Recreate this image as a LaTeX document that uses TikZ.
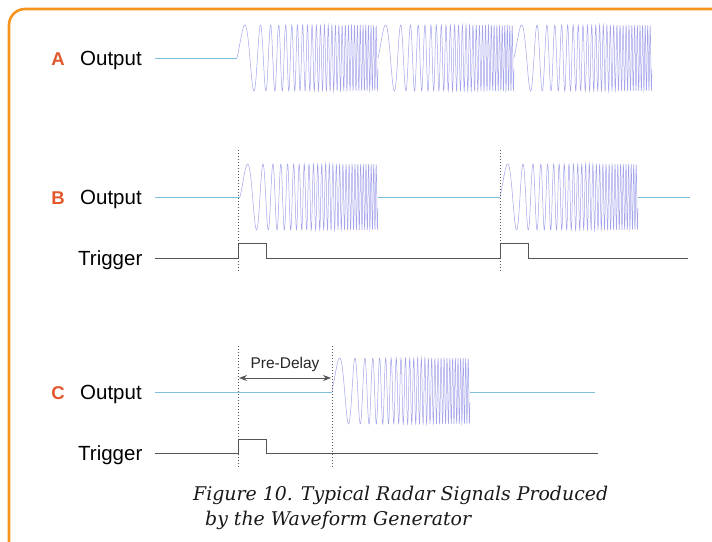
\documentclass[tikz,border=0pt]{standalone}
\usepackage{fontspec}
\setmainfont{Liberation Sans}
\newfontfamily\capfont{DejaVu Serif}
\usetikzlibrary{arrows.meta}
\definecolor{frameorange}{HTML}{F7941D}
\definecolor{tagred}{HTML}{E2582A}
\definecolor{sigblue}{HTML}{7DBFDD}
\definecolor{chirpblue}{HTML}{A4A4EC}
\definecolor{triggray}{HTML}{555555}

\begin{document}
\begin{tikzpicture}[x=1pt,y=-1pt,
    lbl/.style={font=\fontsize{20.5}{24}\selectfont,anchor=base west,inner sep=0pt},
    tag/.style={font=\fontsize{18.5}{22}\selectfont\bfseries,text=tagred,anchor=base,inner sep=0pt},
    caption/.style={font=\fontsize{18.9}{23}\selectfont\capfont\itshape,text=black!90,anchor=base west,inner sep=0pt},
    outline/.style={sigblue,line width=0.8pt},
    trig/.style={triggray,line width=0.9pt},
    chirp/.style={chirpblue,line width=0.5pt},
    markline/.style={triggray,line width=1pt,dash pattern=on 1.3pt off 1.7pt}]
  \useasboundingbox (0,0) rectangle (712,541);
  \fill[white] (0,0) rectangle (712,541);
  \begin{scope}
    \clip (0,0) rectangle (712,541);
    \draw[frameorange,line width=2.6pt,rounded corners=16pt] (9,600) -- (9,9) -- (760,9);
  \end{scope}

  % labels
  \node[tag] (ta) at (58,65) {A};
  \node[lbl] (oa) at (80,65) {Output};
  \node[tag] (tb) at (58,204) {B};
  \node[lbl] (ob) at (80,204) {Output};
  \node[lbl] (gb) at (78,265) {Trigger};
  \node[tag] (tc) at (58,399) {C};
  \node[lbl] (oc) at (80,399) {Output};
  \node[lbl] (gc) at (78,460) {Trigger};

  % chirps
  \foreach \xs/\len/\yc in {237/141/58, 378/136/58, 514/138/58,
                            240/138/197, 500/138/197, 332/138/391}
    \draw[chirp] plot[domain=0:1,samples=700,variable=\t]
      ({\xs+\len*\t},{\yc-33*sin(360*(3*\t+27*\t*\t))});

  % output lines
  \draw[outline] (155,58) -- (237,58);
  \draw[outline] (155,197) -- (240,197) (378,197) -- (500,197) (638,197) -- (690,197);
  \draw[outline] (155,392) -- (332,392) (470,392) -- (595,392);

  % triggers
  \draw[trig] (155,258) -- (238,258) -- (238,243) -- (266,243) -- (266,258)
    -- (500,258) -- (500,243) -- (528,243) -- (528,258) -- (688,258);
  \draw[trig] (155,453) -- (238,453) -- (238,439) -- (266,439) -- (266,453) -- (598,453);

  % markers
  \foreach \x in {238,500}
    \draw[markline] (\x,150) -- (\x,272);
  \foreach \x in {238,332}
    \draw[markline] (\x,346) -- (\x,468);
  \coordinate (d1) at (239,378);
  \coordinate (d2) at (331,378);
  \draw[triggray,line width=1pt,{Stealth[length=8pt,width=6pt]}-{Stealth[length=8pt,width=6pt]}]
    (d1) -- (d2) node[midway,above=2pt,font=\fontsize{15.5}{18}\selectfont,text=black!85] (pd) {Pre-Delay};

  % caption
  \node[caption] (cap1) at (193,500) {Figure 10. Typical Radar Signals Produced};
  \node[caption] (cap2) at (205,525) {by the Waveform Generator};
\end{tikzpicture}
\end{document}
